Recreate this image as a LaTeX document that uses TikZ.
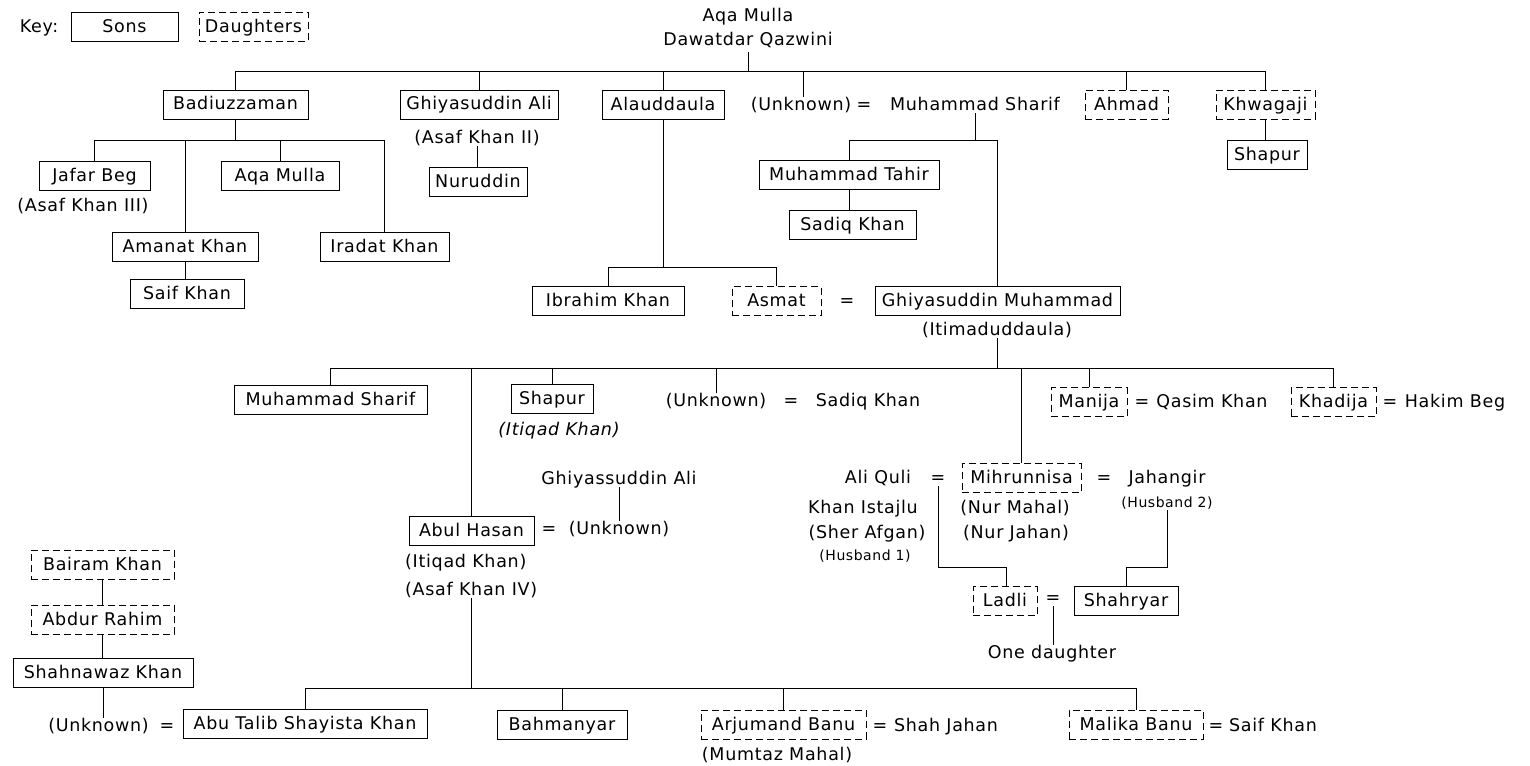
\documentclass[tikz,border=0pt]{standalone}
\usepackage{fontspec}
\setmainfont{DejaVu Sans}[LetterSpace=4.0]
\begin{document}
\begin{tikzpicture}[x=1pt,y=-1pt,
  lbl/.style={font=\fontsize{17.5}{20}\selectfont, text height=13.5pt, text depth=2.5pt, inner sep=0pt},
  lblm/.style={font=\fontsize{17.5}{24}\selectfont, align=center, inner sep=0pt},
  sml/.style={font=\fontsize{14}{16}\selectfont, text height=10.5pt, text depth=2.5pt, inner sep=0pt},
  son/.style={lbl, draw, line width=0.9pt, minimum height=29pt, inner xsep=4pt},
  dau/.style={son, dash pattern=on 7pt off 4pt},
  conn/.style={line width=1pt}]
\useasboundingbox (0,0) rectangle (1530,765);
% key
\node[lbl] (key) at (39,27) {Key:};
\node[son, minimum width=107pt] (ksons) at (124.5,27) {Sons};
\node[dau, minimum width=109pt] (kdau) at (253.5,27) {Daughters};
% root
\node[lblm] (root) at (748,28) {Aqa Mulla\\Dawatdar Qazwini};
\coordinate (b0) at (0,72);
\coordinate (b1) at (0,140);
\coordinate (b2) at (0,267);
\coordinate (b4) at (0,368);
\coordinate (b5) at (0,688);
% first generation
\node[son, minimum width=145pt] (bad) at (235.5,104.5) {Badiuzzaman};
\node[son, minimum width=158pt] (gali) at (479,104.5) {Ghiyasuddin Ali};
\node[lbl] (asaf2) at (477,138) {(Asaf Khan II)};
\node[son, minimum width=98pt] (nur) at (478,182) {Nuruddin};
\node[son, minimum width=122pt] (alau) at (663,105) {Alauddaula};
\node[lbl] (unk1) at (801,105) {(Unknown)};
\node[lbl] (eq1) at (864,105) {=};
\node[lbl] (msh) at (975,105) {Muhammad Sharif};
\node[dau, minimum width=83pt] (ahmad) at (1126.5,105) {Ahmad};
\node[dau, minimum width=99pt] (khw) at (1265.5,105) {Khwagaji};
\node[son, minimum width=80pt] (shap1) at (1267,154.5) {Shapur};
% Badiuzzaman's sons
\node[son, minimum width=111pt] (jafar) at (94.5,176) {Jafar Beg};
\node[lbl] (asaf3) at (83,206) {(Asaf Khan III)};
\node[son, minimum width=118pt] (aqa2) at (280,175.5) {Aqa Mulla};
\node[son, minimum width=146pt] (amanat) at (185,246.5) {Amanat Khan};
\node[son, minimum width=129pt] (iradat) at (384.5,246.5) {Iradat Khan};
\node[son, minimum width=114pt] (saif1) at (187,294) {Saif Khan};
% Alauddaula / Muhammad Sharif
\node[son, minimum width=152pt] (ibr) at (608,301) {Ibrahim Khan};
\node[dau, minimum width=89pt] (asmat) at (776.5,301) {Asmat};
\node[lbl] (eq2) at (847,301) {=};
\node[son, minimum width=245pt] (gmuh) at (997.5,301) {Ghiyasuddin Muhammad};
\node[lbl] (itim) at (997,330) {(Itimaduddaula)};
\node[son, minimum width=180pt] (mtah) at (849,174.5) {Muhammad Tahir};
\node[son, minimum width=127pt] (sadiq1) at (852.5,224.5) {Sadiq Khan};
% Itimaduddaula's children
\node[son, minimum width=193pt] (msh2) at (330.5,399.5) {Muhammad Sharif};
\node[son, minimum width=82pt] (shap2) at (552,399) {Shapur};
\node[lbl, font=\fontsize{17.5}{20}\selectfont\itshape] (itiq1) at (559,430) {(Itiqad Khan)};
\node[lbl] (unk2) at (716,401) {(Unknown)};
\node[lbl] (eq3) at (791,401) {=};
\node[lbl] (sadiq2) at (868,401) {Sadiq Khan};
\node[dau, minimum width=76pt] (manija) at (1089,402) {Manija};
\node[lbl] (eq4) at (1142,402) {=};
\node[lbl] (qasim) at (1212,402) {Qasim Khan};
\node[dau, minimum width=85pt] (khad) at (1333.5,402) {Khadija};
\node[lbl] (eq5) at (1390,402) {=};
\node[lbl] (hakim) at (1455,402) {Hakim Beg};
% Abul Hasan
\node[lbl] (gali2) at (619,479) {Ghiyassuddin Ali};
\node[son, minimum width=125pt] (abul) at (471.5,530.5) {Abul Hasan};
\node[lbl] (eq6) at (549,529) {=};
\node[lbl] (unk3) at (619,529) {(Unknown)};
\node[lbl, anchor=west] (ahs1) at (405,562) {(Itiqad Khan)};
\node[lbl, anchor=west] (ahs2) at (405,590) {(Asaf Khan IV)};
% Mihrunnisa
\node[lbl] (aliq) at (878,478) {Ali Quli};
\node[lbl] (eq7) at (938,478) {=};
\node[lbl] (istaj) at (863,508) {Khan Istajlu};
\node[lbl] (sher) at (867,533) {(Sher Afgan)};
\node[sml] (hus1) at (865,556) {(Husband 1)};
\node[dau, minimum width=119pt] (mihr) at (1021.5,478) {Mihrunnisa};
\node[lbl] (nurm) at (1015,508) {(Nur Mahal)};
\node[lbl] (nurj) at (1016,533) {(Nur Jahan)};
\node[lbl] (eq8) at (1104,478) {=};
\node[lbl] (jah) at (1167,478) {Jahangir};
\node[sml] (hus2) at (1167,503) {(Husband 2)};
\node[dau, minimum width=64pt] (ladli) at (1005,601) {Ladli};
\node[lbl] (eq9) at (1053,598) {=};
\node[son, minimum width=104pt] (shahr) at (1126,601) {Shahryar};
\node[lbl] (oned) at (1052,653) {One daughter};
\coordinate (jl) at (1006,567);
\coordinate (jj) at (1126,567);
% Bairam Khan line
\node[dau, minimum width=143pt] (bairam) at (102.5,564.5) {Bairam Khan};
\node[dau, minimum width=143pt] (abdur) at (102.5,619.5) {Abdur Rahim};
\node[son, minimum width=180pt] (shahn) at (103,672.5) {Shahnawaz Khan};
\node[lbl] (unk4) at (98.5,726) {(Unknown)};
\node[lbl] (eq10) at (167,726) {=};
% Abul Hasan's children
\node[son, minimum width=244pt] (abut) at (305,724) {Abu Talib Shayista Khan};
\node[son, minimum width=130pt] (bahm) at (562,724.5) {Bahmanyar};
\node[dau, minimum width=165pt] (arju) at (783.5,724.5) {Arjumand Banu};
\node[lbl] (eq11) at (880,726) {=};
\node[lbl] (shj) at (946,726) {Shah Jahan};
\node[lbl] (mumt) at (777,755) {(Mumtaz Mahal)};
\node[dau, minimum width=134pt] (malika) at (1136,724.5) {Malika Banu};
\node[lbl] (eq12) at (1216,726) {=};
\node[lbl] (saif2) at (1273,726) {Saif Khan};
% connectors
\draw[conn] ([yshift=-4pt]root.south) -- (root.south |- b0);
\draw[conn] (bad.north) -- (bad.north |- b0) -- (khw.north |- b0) -- (khw.north);
\foreach \n in {gali,alau,ahmad} \draw[conn] (\n.north) -- (\n.north |- b0);
\draw[conn] ([xshift=2pt]unk1.north) -- ([xshift=2pt]unk1.north |- b0);
\draw[conn] (khw.south) -- (khw.south |- shap1.north);
\draw[conn] (bad.south) -- (bad.south |- b1);
\draw[conn] (jafar.north) -- (jafar.north |- b1) -- (iradat.north |- b1) -- (iradat.north);
\draw[conn] (amanat.north) -- (amanat.north |- b1);
\draw[conn] (aqa2.north) -- (aqa2.north |- b1);
\draw[conn] (amanat.south) -- (amanat.south |- saif1.north);
\draw[conn] (asaf2.south) -- (asaf2.south |- nur.north);
\draw[conn] (alau.south) -- (alau.south |- b2);
\draw[conn] (ibr.north) -- (ibr.north |- b2) -- (asmat.north |- b2) -- (asmat.north);
\draw[conn] (msh.south) -- (msh.south |- b1);
\draw[conn] (mtah.north) -- (mtah.north |- b1) -- (gmuh.north |- b1) -- (gmuh.north);
\draw[conn] (mtah.south) -- (mtah.south |- sadiq1.north);
\draw[conn] (itim.south) -- (itim.south |- b4);
\draw[conn] (msh2.north) -- (msh2.north |- b4) -- (khad.north |- b4) -- (khad.north);
\foreach \n in {abul,shap2,unk2,mihr,manija} \draw[conn] (\n.north) -- (\n.north |- b4);
\draw[conn] (gali2.south) -- (gali2.south |- unk3.north);
\draw[conn] (abul.south |- ahs2.south) -- (abul.south |- b5);
\draw[conn] (abut.north) -- (abut.north |- b5) -- (malika.north |- b5) -- (malika.north);
\foreach \n in {bahm,arju} \draw[conn] (\n.north) -- (\n.north |- b5);
\draw[conn] (eq7.south) |- (jl) -- (jl |- ladli.north);
\draw[conn] (hus2.south) |- (jj) -- (jj |- shahr.north);
\draw[conn] (eq9.south) -- (eq9.south |- oned.north);
\draw[conn] (bairam.south) -- (bairam.south |- abdur.north);
\draw[conn] (abdur.south) -- (abdur.south |- shahn.north);
\draw[conn] (shahn.south) -- (shahn.south |- unk4.north);
\end{tikzpicture}
\end{document}
